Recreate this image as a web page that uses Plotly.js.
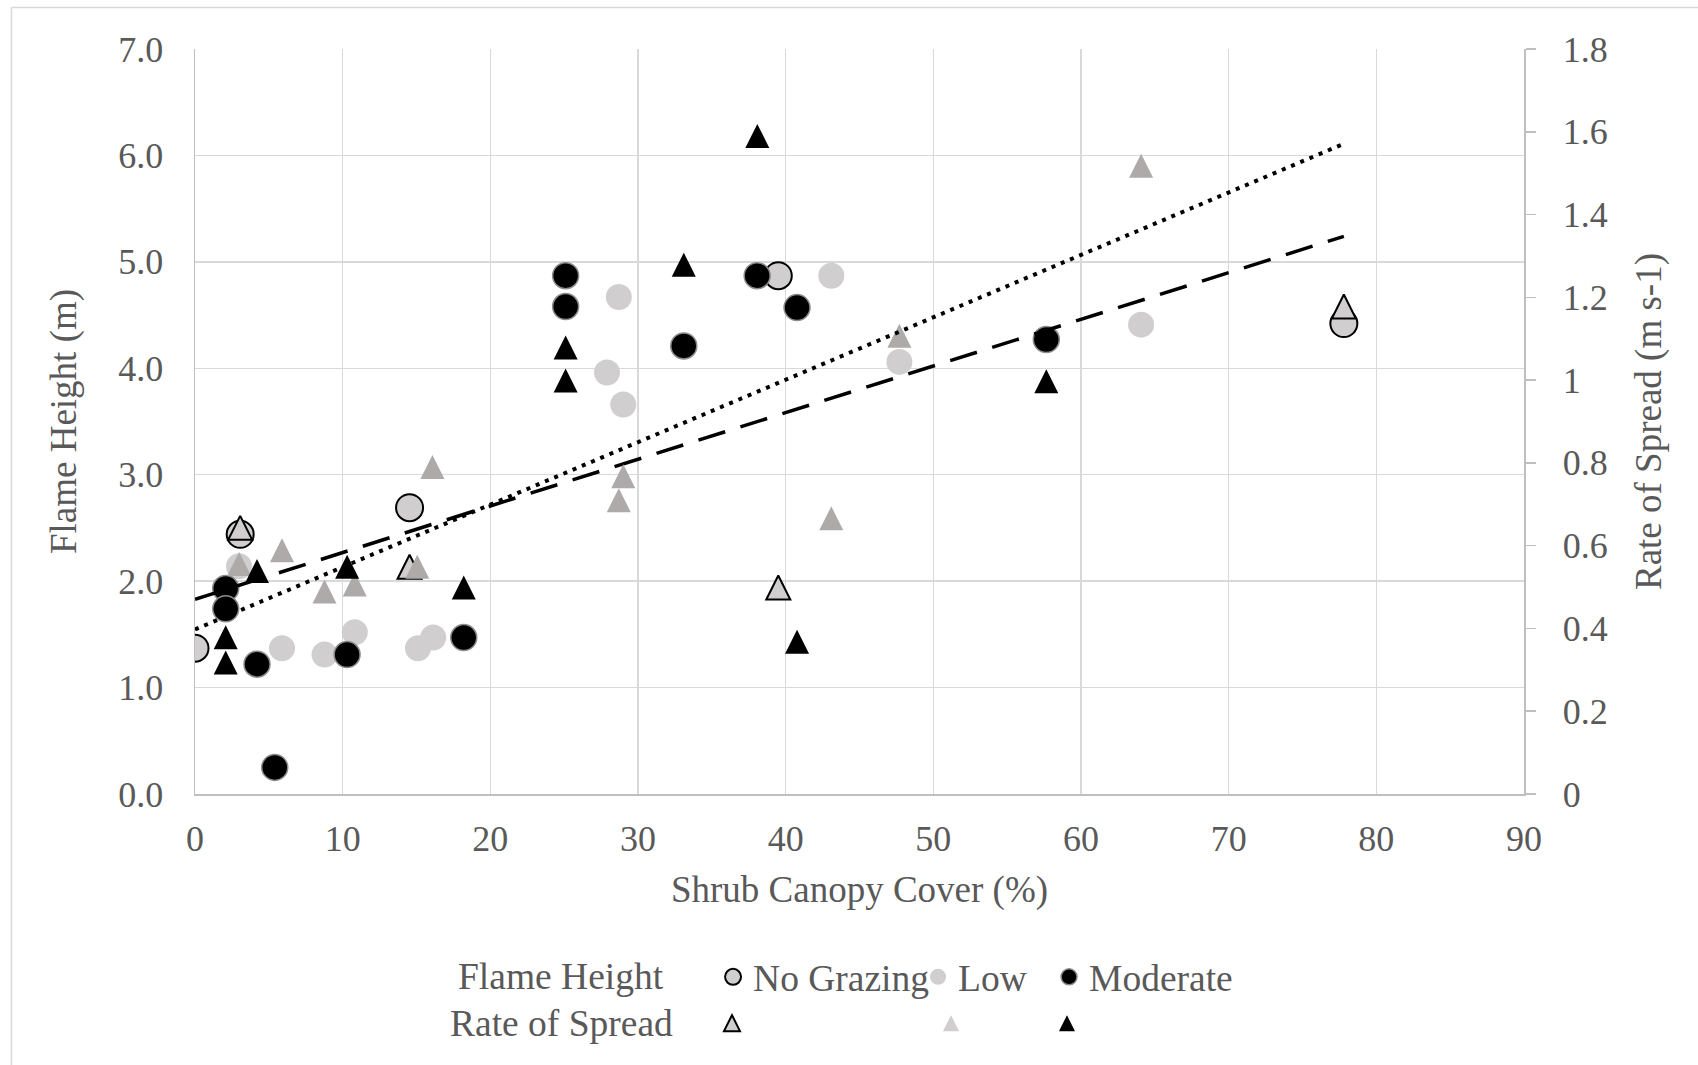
<!DOCTYPE html>
<html>
<head>
<meta charset="utf-8">
<script src="https://cdn.plot.ly/plotly-3.0.1.min.js"></script>
<style>
  html, body { margin: 0; padding: 0; background: #ffffff; }
  #chart { width: 1698px; height: 1065px; }
</style>
</head>
<body>
<div id="chart"></div>
<script>
// ---- Data ----
// Shrub canopy cover (%) and flame height (m), left axis
var ngX   = [0, 3.06, 14.53, 39.5, 77.8];
var ngFH  = [1.37, 2.44, 2.69, 4.87, 4.42];
var lowX  = [2.98, 5.89, 8.77, 10.82, 15.1, 16.13, 27.9, 28.7, 29.0, 43.09, 47.7, 64.07];
var lowFH = [2.14, 1.37, 1.31, 1.52, 1.37, 1.47, 3.96, 4.67, 3.66, 4.87, 4.06, 4.41];
var modX  = [2.08, 2.08, 4.2, 5.4, 10.3, 18.2, 25.1, 25.1, 33.1, 38.07, 40.77, 57.65];
var modFH = [1.93, 1.74, 1.22, 0.25, 1.31, 1.47, 4.87, 4.58, 4.21, 4.87, 4.57, 4.27];

// Rate of spread (m s-1), right axis
var ngRosX   = [3.06, 14.53, 39.5, 77.8];
var ngROS    = [0.643, 0.549, 0.499, 1.178];
var lowRosX  = [2.99, 5.89, 8.77, 10.82, 15.05, 16.08, 28.7, 29.0, 43.09, 47.7, 64.07];
var lowROS   = [0.556, 0.589, 0.489, 0.506, 0.549, 0.790, 0.710, 0.768, 0.666, 1.107, 1.518];
var modRosX  = [2.08, 2.08, 4.2, 10.3, 18.2, 25.1, 25.1, 33.1, 38.08, 40.77, 57.65];
var modROS   = [0.379, 0.318, 0.539, 0.549, 0.499, 1.079, 0.999, 1.279, 1.590, 0.368, 0.997];

// Trend lines (end points)
var trendX   = [0, 77.8];
var fhTrend  = [1.83, 5.24];     // flame height trend, left axis (dashed)
var rosTrend = [0.3975, 1.571];  // rate of spread trend, right axis (dotted)

// Labels
var seriesNames = ['No Grazing', 'Low', 'Moderate'];
var legendRowTitles = ['Flame Height', 'Rate of Spread'];
var xTitle = 'Shrub Canopy Cover (%)';
var yTitle = 'Flame Height (m)';
var y2Title = 'Rate of Spread (m s-1)';

// ---- Styles ----
var FONT = 'Liberation Serif, Times New Roman, serif';
var TXT = '#595959';
var GRID = '#d9d9d9';
var AXL = '#bfbfbf';
var LIGHT = '#d0cece';
var MIDGRAY = '#aeaaaa';
var CIRC = 26;
var TRI = 24;

function triMarker(color, lineColor, lineWidth) {
  return {
    symbol: 'arrow-down', angle: 180, standoff: TRI / 2, size: TRI,
    color: color, line: { color: lineColor, width: lineWidth }
  };
}

var traces = [
  // Flame height (left axis)
  { x: ngX, y: ngFH, type: 'scatter', mode: 'markers', name: seriesNames[0],
    legend: 'legend', legendwidth: 160,
    marker: { symbol: 'circle', size: CIRC + 1, color: LIGHT, line: { color: '#000000', width: 2 } } },
  { x: lowX, y: lowFH, type: 'scatter', mode: 'markers', name: seriesNames[1],
    legend: 'legend', legendwidth: 86,
    marker: { symbol: 'circle', size: CIRC, color: LIGHT, line: { color: LIGHT, width: 0 } } },
  { x: modX, y: modFH, type: 'scatter', mode: 'markers', name: seriesNames[2],
    legend: 'legend',
    marker: { symbol: 'circle', size: CIRC, color: '#000000', line: { color: '#8c8c8c', width: 1.5 } } },
  { x: trendX, y: fhTrend, type: 'scatter', mode: 'lines', showlegend: false, hoverinfo: 'skip',
    line: { color: '#000000', width: 3.5, dash: '28px,16px' } },

  // Rate of spread (right axis)
  { x: ngRosX, y: ngROS, yaxis: 'y2', type: 'scatter', mode: 'markers', name: seriesNames[0] + ' ROS',
    showlegend: false, marker: triMarker(LIGHT, '#000000', 2) },
  { x: lowRosX, y: lowROS, yaxis: 'y2', type: 'scatter', mode: 'markers', name: seriesNames[1] + ' ROS',
    showlegend: false, marker: triMarker(MIDGRAY, MIDGRAY, 0) },
  { x: modRosX, y: modROS, yaxis: 'y2', type: 'scatter', mode: 'markers', name: seriesNames[2] + ' ROS',
    showlegend: false, marker: triMarker('#000000', '#000000', 0) },
  { x: trendX, y: rosTrend, yaxis: 'y2', type: 'scatter', mode: 'lines', showlegend: false, hoverinfo: 'skip',
    line: { color: '#000000', width: 4, dash: '4px,6px' } },

  // Legend entries for the rate-of-spread row (symbols only)
  { x: [null], y: [null], yaxis: 'y2', type: 'scatter', mode: 'markers', name: '', legend: 'legend2',
    legendwidth: 174, hoverinfo: 'skip',
    marker: { symbol: 'arrow-up', size: 16, color: LIGHT, line: { color: '#000000', width: 2 } } },
  { x: [null], y: [null], yaxis: 'y2', type: 'scatter', mode: 'markers', name: '', legend: 'legend2',
    legendwidth: 71, hoverinfo: 'skip',
    marker: { symbol: 'arrow-up', size: 16, color: LIGHT, line: { width: 0 } } },
  { x: [null], y: [null], yaxis: 'y2', type: 'scatter', mode: 'markers', name: '', legend: 'legend2',
    legendwidth: 20, hoverinfo: 'skip',
    marker: { symbol: 'arrow-up', size: 16, color: '#000000', line: { width: 0 } } }
];

var tickFont = { family: FONT, size: 36, color: TXT };
var titleFont = { family: FONT, size: 37, color: TXT };
var legFont = { family: FONT, size: 37.5, color: TXT };

var layout = {
  width: 1698, height: 1065,
  margin: { l: 195, r: 174, t: 49, b: 271, autoexpand: false },
  paper_bgcolor: '#ffffff', plot_bgcolor: '#ffffff',
  font: { family: FONT, color: TXT },
  hovermode: false,
  xaxis: {
    range: [0, 90], dtick: 10, tick0: 0, showgrid: true, gridcolor: GRID, gridwidth: 1.5,
    zeroline: false, showline: true, linecolor: AXL, linewidth: 1.5, ticks: '',
    tickfont: tickFont, ticklabelstandoff: 12,
    title: { text: xTitle, font: titleFont, standoff: 18 }
  },
  yaxis: {
    range: [0, 7], dtick: 1, tick0: 0, tickformat: '.1f', showgrid: true, gridcolor: GRID, gridwidth: 1.5,
    zeroline: false, showline: true, linecolor: AXL, linewidth: 1.5, ticks: '',
    tickfont: tickFont, ticklabelstandoff: 23,
    title: { text: yTitle, font: titleFont, standoff: 30 }
  },
  yaxis2: {
    overlaying: 'y', side: 'right', range: [0, 1.8], dtick: 0.2, tick0: 0,
    showgrid: false, zeroline: false, showline: true, linecolor: AXL, linewidth: 1.5,
    ticks: 'outside', ticklen: 10, tickwidth: 1.5, tickcolor: AXL,
    tickfont: tickFont, ticklabelstandoff: 20,
    title: { text: y2Title, font: titleFont, standoff: 28 }
  },
  legend: {
    orientation: 'h', x: 0.3898, xanchor: 'left', y: -0.2456, yanchor: 'middle',
    font: legFont, bgcolor: 'rgba(0,0,0,0)', itemsizing: 'trace', traceorder: 'normal'
  },
  legend2: {
    orientation: 'h', x: 0.389, xanchor: 'left', y: -0.297, yanchor: 'middle',
    font: legFont, bgcolor: 'rgba(0,0,0,0)', itemsizing: 'trace', traceorder: 'normal'
  },
  annotations: [
    { text: legendRowTitles[0], xref: 'paper', yref: 'paper', x: 0.2754, y: -0.2456,
      xanchor: 'center', yanchor: 'middle', showarrow: false, font: legFont },
    { text: legendRowTitles[1], xref: 'paper', yref: 'paper', x: 0.2754, y: -0.3074,
      xanchor: 'center', yanchor: 'middle', showarrow: false, font: legFont }
  ],
  shapes: [
    { type: 'line', xref: 'paper', yref: 'paper', x0: -0.1381, x1: 1.25, y0: 1.0557, y1: 1.0557,
      line: { color: GRID, width: 1.5 } },
    { type: 'line', xref: 'paper', yref: 'paper', x0: -0.1381, x1: -0.1381, y0: 1.0557, y1: -0.45,
      line: { color: GRID, width: 1.5 } }
  ]
};

Plotly.newPlot('chart', traces, layout, { displayModeBar: false, staticPlot: true });
</script>
</body>
</html>
